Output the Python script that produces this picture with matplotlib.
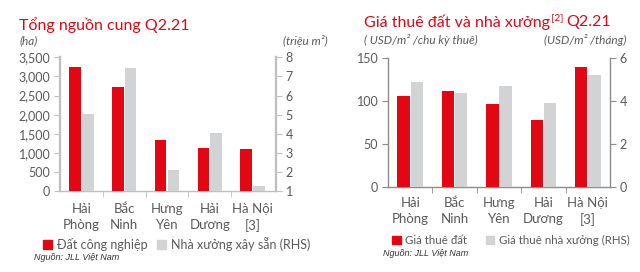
import matplotlib
matplotlib.use("Agg")
import matplotlib.pyplot as plt
import numpy as np

# ---- data ----
categories = ["Hải\nPhòng", "Bắc\nNinh", "Hưng\nYên", "Hải\nDương", "Hà Nội\n[3]"]
land_supply_ha = [3250, 2730, 1350, 1130, 1100]
factory_supply_mil_m2 = [5.05, 7.43, 2.1, 4.07, 1.28]
land_rent = [106, 112, 97, 78, 140]
factory_rent = [4.9, 4.39, 4.71, 3.91, 5.21]
left_ticks = [0, 500, 1000, 1500, 2000, 2500, 3000, 3500]
left_rhs_ticks = [1, 2, 3, 4, 5, 6, 7, 8]
right_ticks = [0, 50, 100, 150]
right_rhs_ticks = [0, 2, 4, 6]

RED = "#e30613"
GRAY = "#d2d3d5"
TXT = "#5a5a5a"
FONT = "Lato"

plt.rcParams["font.family"] = [FONT, "DejaVu Sans"]

fig = plt.figure(figsize=(6.4, 2.72), dpi=100)
W, H = 640, 272

def ax_rect(l, r, t, b):
    return [l / W, 1 - b / H, (r - l) / W, (b - t) / H]

x = np.arange(len(categories))
bw = 0.27
off = 0.15

def style_axes(ax, ax2, spine_col, spine_w, xmax, pad):
    for a in (ax, ax2):
        a.spines["top"].set_visible(False)
        a.set_facecolor("none")
    ax.spines["right"].set_visible(False)
    ax2.spines["left"].set_visible(False)
    ax2.spines["bottom"].set_visible(False)
    ax.spines["left"].set_color(spine_col)
    ax.spines["left"].set_linewidth(spine_w)
    ax.spines["bottom"].set_color(spine_col)
    ax.spines["bottom"].set_linewidth(1.0)
    ax2.spines["right"].set_color(spine_col)
    ax2.spines["right"].set_linewidth(spine_w)
    ax.tick_params(axis="y", direction="out", length=4, color=spine_col,
                   labelcolor=TXT, labelsize=9, pad=3)
    ax2.tick_params(axis="y", direction="out", length=4, color=spine_col,
                    labelcolor=TXT, labelsize=9, pad=3)
    ax.set_xlim(-0.5, xmax)
    ax.set_xticks(x)
    ax.set_xticklabels(categories, color=TXT, fontsize=9.5, linespacing=1.35)
    ax.tick_params(axis="x", length=0, pad=pad)
    ax.set_xticks(x[:-1] + 0.5, minor=True)
    ax.tick_params(axis="x", which="minor", length=4, color=spine_col, direction="out")

# ---- left chart ----
ax1 = fig.add_axes(ax_rect(60, 276, 57.3, 191.3))
ax1b = ax1.twinx()
ax1.bar(x - off, land_supply_ha, width=bw, color=RED, zorder=3)
ax1b.bar(x + off, factory_supply_mil_m2, width=bw, color=GRAY, zorder=3)
ax1.set_ylim(0, 3500)
ax1.set_yticks(left_ticks)
ax1.set_yticklabels([f"{v:,}" for v in left_ticks])
ax1b.set_ylim(1, 8)
ax1b.set_yticks(left_rhs_ticks)
style_axes(ax1, ax1b, "#bfbfbf", 1.6, 4.55, 8.5)

# ---- right chart ----
ax2 = fig.add_axes(ax_rect(388, 610, 58.3, 187.3))
ax2b = ax2.twinx()
ax2.bar(x - off, land_rent, width=bw + 0.01, color=RED, zorder=3)
ax2b.bar(x + off, factory_rent, width=bw + 0.01, color=GRAY, zorder=3)
ax2.set_ylim(0, 150)
ax2.set_yticks(right_ticks)
ax2b.set_ylim(0, 6)
ax2b.set_yticks(right_rhs_ticks)
style_axes(ax2, ax2b, "#8c8c8c", 1.0, 4.5, 7.0)

# ---- titles and units ----
def ftext(px, py, s, **kw):
    return fig.text(px / W, 1 - py / H, s, **kw)

ftext(19, 25, "Tổng nguồn cung Q2.21", color=RED, fontsize=11.5, va="center", ha="left")
t1 = ftext(364, 22, "Giá thuê đất và nhà xưởng", color=RED, fontsize=11.5, va="center", ha="left")
fig.canvas.draw()
r = fig.canvas.get_renderer()
bb = t1.get_window_extent(r)
t2 = fig.text(bb.x1 / W + 0.5 / W, 1 - 18 / H, "[2]", color=RED, fontsize=7.5, va="center", ha="left")
bb2 = t2.get_window_extent(r)
fig.text(bb2.x1 / W + 3 / W, 1 - 22 / H, "Q2.21", color=RED, fontsize=11.5, va="center", ha="left")

unit_kw = dict(color=TXT, fontsize=8.5, style="italic", va="center", ha="left")
ftext(20, 41, "(ha)", **unit_kw)
ftext(283, 41, "(triệu m²)", **unit_kw)
ftext(364, 40, "( USD/m² /chu kỳ thuê)", **unit_kw)
ftext(544, 40, "(USD/m² /tháng)", **unit_kw)

# ---- legends ----
from matplotlib.patches import Patch
leg_kw = dict(frameon=False, ncol=2, handlelength=0.75, handleheight=0.75,
              handletextpad=0.4, labelcolor=TXT, borderaxespad=0,
              borderpad=0, loc="center left")
lg1 = fig.legend(handles=[Patch(color=RED, label="Đất công nghiệp"),
                          Patch(color=GRAY, label="Nhà xưởng xây sẵn (RHS)")],
                 bbox_to_anchor=(43 / W, 1 - 244 / H), columnspacing=0.7,
                 fontsize=9, **leg_kw)
lg2 = fig.legend(handles=[Patch(color=RED, label="Giá thuê đất"),
                          Patch(color=GRAY, label="Giá thuê nhà xưởng (RHS)")],
                 bbox_to_anchor=(392 / W, 1 - 240.5 / H), columnspacing=1.6,
                 fontsize=8.3, **leg_kw)

src_kw = dict(color="#333333", fontsize=6.5, style="italic", va="center", ha="left",
              family=["Liberation Sans", "DejaVu Sans"])
ftext(34, 257.5, "Nguồn: JLL Việt Nam", **src_kw)
ftext(383, 253.5, "Nguồn: JLL Việt Nam", **src_kw)

fig.savefig("out.png", dpi=100)
